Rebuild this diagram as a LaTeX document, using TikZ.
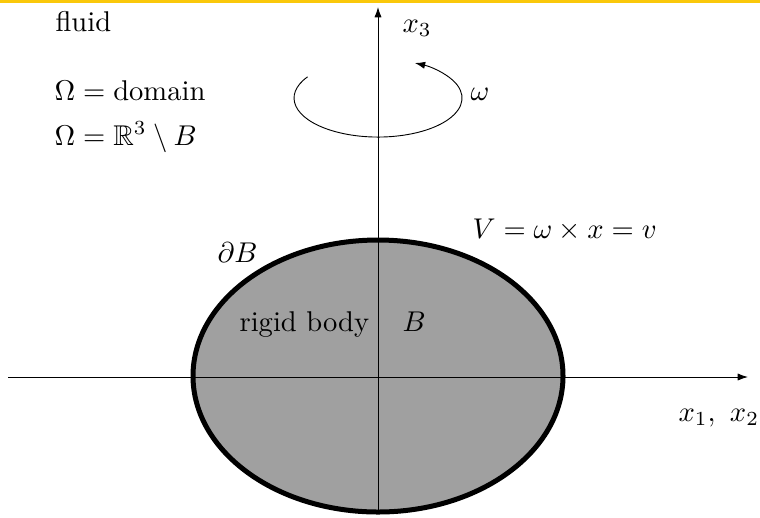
\documentclass[tikz,border=0pt]{standalone}
\usepackage{amsmath,amssymb}
\usetikzlibrary{arrows.meta}
\definecolor{bodygray}{RGB}{160,160,160}
\definecolor{topbar}{RGB}{250,200,10}
\begin{document}
\begin{tikzpicture}[x=0.35pt,y=-0.35pt,
  axis/.style={line width=0.32pt,-{Latex[length=3.6pt,width=2.5pt]}},
  lbl/.style={anchor=base west,inner sep=0pt},
  body/.style={fill=bodygray,draw=black,line width=1.75pt}]
\useasboundingbox (0,0) rectangle (760,517);
\fill[topbar] (0,0) rectangle (760,2.5);
% rigid body
\coordinate (O) at (378,376);
\draw[body] (O) ellipse[x radius=185,y radius=136];
% axes
\coordinate (xl) at (8,377);
\coordinate (xr) at (748,377);
\coordinate (zb) at (378,512);
\coordinate (zt) at (378,7);
\draw[axis] (xl) -- (xr);
\draw[axis] (zb) -- (zt);
% rotation arrow
\coordinate (rotstart) at (307.6,76.8);
\draw[axis] (rotstart) arc[start angle=-147,end angle=-424,x radius=84,y radius=39];
% labels
\node[lbl] (fluid) at (55,31) {fluid};
\node[lbl] (dom) at (54,100) {$\Omega = \text{domain}$};
\node[lbl] (omr) at (54,145) {$\Omega = \mathbb{R}^3 \setminus B$};
\node[lbl] (dB) at (217,262) {$\partial B$};
\node[lbl] (rb) at (239,331) {rigid body};
\node[lbl] (B) at (402,331) {$B$};
\node[lbl] (V) at (472,238) {$V = \omega \times x = v$};
\node[lbl] (x3) at (402,32) {$x_3$};
\node[lbl] (om) at (470,100) {$\omega$};
\node[lbl] (x12) at (678,421) {$x_1,\ x_2$};
\end{tikzpicture}
\end{document}
